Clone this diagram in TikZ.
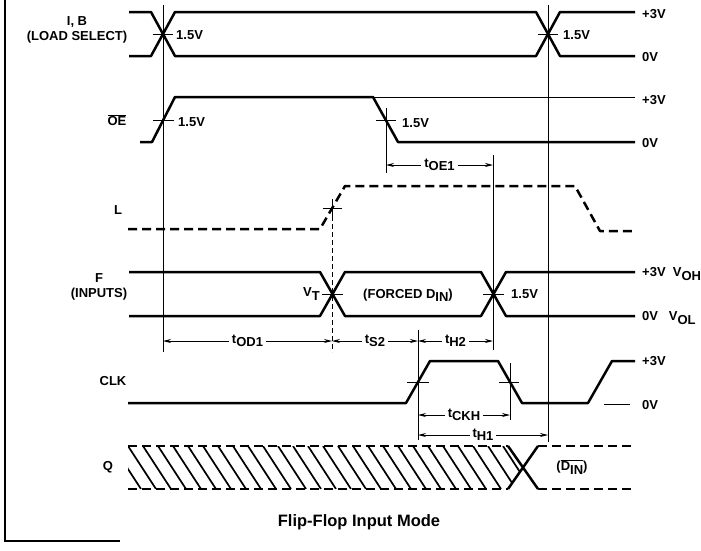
\documentclass[tikz,border=0pt]{standalone}
\usepackage{fontspec}
\setmainfont{Liberation Sans}
\usetikzlibrary{arrows.meta}
\newcommand{\lowsub}[1]{\raisebox{-0.45ex}{#1}}
\newcommand{\tname}[1]{t\lowsub{#1}}
\tikzset{
  sig/.style={line width=2.5pt, line join=round},
  dsig/.style={sig, dash pattern=on 9pt off 5pt},
  guide/.style={line width=0.8pt},
  dguide/.style={guide, dash pattern=on 5pt off 3pt},
  lbl/.style={font=\bfseries\fontsize{13}{15}\selectfont, inner sep=1pt},
  span/.style={guide, <->, >={Stealth[length=8pt,width=4pt]}},
  tim/.style={lbl, fill=white, inner sep=3pt}
}
\begin{document}
\begin{tikzpicture}[x=1pt, y=-1pt]
    \useasboundingbox (0,0) rectangle (701,550);
    % frame
    \draw[line width=1.2pt] (5,0)--(5,541)--(120,541);
    % I, B
    \draw[sig] (129,12)--(151,12)--(175,56)--(536,56)--(560,12)--(635,12);
    \draw[sig] (129,56)--(151,56)--(175,12)--(536,12)--(560,56)--(635,56);
    \draw[guide] (153,34)--(173,34) (538,34)--(558,34);
    \node[lbl, align=center] (ib) at (77,30) {I, B\\(LOAD SELECT)};
    \node[lbl, anchor=west] (ib15a) at (175,35) {1.5V};
    \node[lbl, anchor=west] (ib15b) at (562,35) {1.5V};
    \node[lbl, anchor=west] (ibhi) at (641,14) {+3V};
    \node[lbl, anchor=west] (iblo) at (641,57) {0V};
    % OE
    \draw[sig] (140,142)--(152,142)--(175,97)--(373,97)--(398,142)--(635,142);
    \draw[guide] (373,97)--(635,97);
    \draw[guide] (153,120)--(174,120) (376,120)--(396,120);
    \node[lbl] (oe) at (117,120) {$\overline{\hbox{OE}}$};
    \node[lbl, anchor=west] (oe15a) at (177,122) {1.5V};
    \node[lbl, anchor=west] (oe15b) at (401,123) {1.5V};
    \node[lbl, anchor=west] (oehi) at (641,100) {+3V};
    \node[lbl, anchor=west] (oelo) at (641,143) {0V};
    % L
    \draw[dsig] (128,229)--(320,229)--(345,186)--(575,186)--(600,231)--(635,231);
    \draw[guide] (323,208)--(342,208) (332,199)--(332,216);
    \node[lbl] (l) at (118,210) {L};
    % F
    \draw[sig] (129,272)--(320,272)--(345,316)--(481,316)--(506,272)--(635,272);
    \draw[sig] (129,316)--(320,316)--(345,272)--(481,272)--(506,316)--(635,316);
    \draw[guide] (322,294)--(343,294) (483,294)--(504,294);
    \node[lbl, align=center] (f) at (99,287) {F\\(INPUTS)};
    \node[lbl, anchor=east] (vt) at (321,294) {V\lowsub{T}};
    \node[lbl] (forced) at (408,295) {(FORCED D\lowsub{IN})};
    \node[lbl, anchor=west] (f15) at (510,294) {1.5V};
    \node[lbl, anchor=west] (fhi) at (641,274) {+3V\ \ V\lowsub{OH}};
    \node[lbl, anchor=west] (flo) at (641,318) {0V\ \ \ V\lowsub{OL}};
    % CLK
    \draw[sig] (128,403)--(406,403)--(430,361)--(498,361)--(522,403)--(588,403)--(612,361)--(635,361);
    \draw[guide] (407,382)--(429,382) (499,382)--(519,382);
    \draw[guide] (604,404)--(630,404);
    \node[lbl] (clk) at (113,381) {CLK};
    \node[lbl, anchor=west] (clkhi) at (641,361) {+3V};
    \node[lbl, anchor=west] (clklo) at (641,405) {0V};
    % Q
    \begin{scope}
      \clip (128,446)--(508,446)--(523,467.5)--(508,489)--(128,489)--cycle;
      \foreach \x in {98,113,...,523}
        \draw[line width=1.7pt] (\x,446)--(\x+28,489);
    \end{scope}
    \draw[dsig] (128,446)--(508,446) (128,489)--(508,489);
    \draw[sig] (508,446)--(538,489) (508,489)--(538,446);
    \draw[dsig] (538,446)--(635,446) (538,489)--(635,489);
    \node[lbl] (q) at (108,467) {Q};
    \node[lbl] (din) at (572,467) {($\overline{\hbox{D\lowsub{IN}}}$)};
    % reference lines
    \draw[guide] (163,5)--(163,352);
    \draw[guide] (548,5)--(548,442);
    \draw[guide] (386,108)--(386,173);
    \draw[guide] (493,155)--(493,350);
    \draw[dguide] (332,216)--(332,352);
    \draw[guide] (418,330)--(418,440);
    \draw[guide] (510,363)--(510,420);
    % timing
    \coordinate (oe1a) at (386,165);
    \coordinate (oe1b) at (493,165);
    \coordinate (od1a) at (163,341);
    \coordinate (od1b) at (332,341);
    \coordinate (s2b) at (418,341);
    \coordinate (h2b) at (493,341);
    \coordinate (ckha) at (418,415);
    \coordinate (ckhb) at (510,415);
    \coordinate (h1a) at (418,435);
    \coordinate (h1b) at (548,435);
    \draw[span] (oe1a)--node[tim]{\tname{OE1}}(oe1b);
    \draw[span] (od1a)--node[tim]{\tname{OD1}}(od1b);
    \draw[span] (od1b)--node[tim]{\tname{S2}}(s2b);
    \draw[span] (s2b)--node[tim]{\tname{H2}}(h2b);
    \draw[span] (ckha)--node[tim]{\tname{CKH}}(ckhb);
    \draw[span] (h1a)--node[tim]{\tname{H1}}(h1b);
    % caption
    \node[lbl, font=\bfseries\fontsize{16.5}{19}\selectfont] (cap) at (359,522) {Flip-Flop Input Mode};
\end{tikzpicture}
\end{document}
